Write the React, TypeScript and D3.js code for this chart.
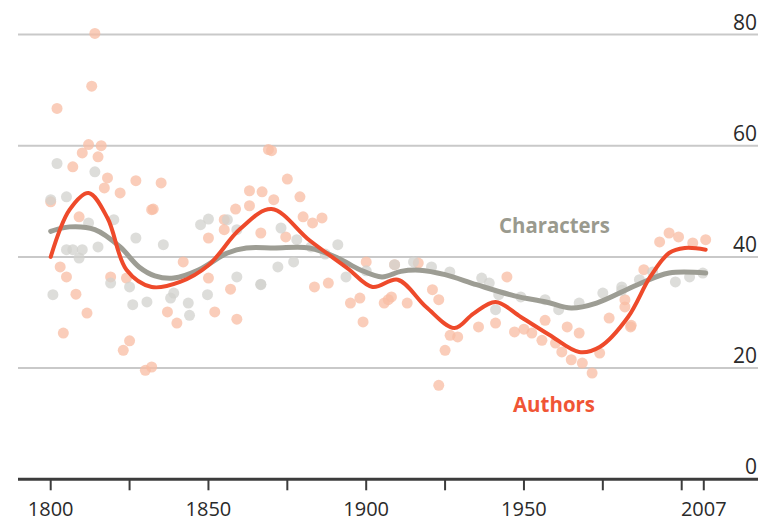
import React from 'react';
import * as d3 from 'd3';

// scatter points: [year, value]
const authorDots: [number, number][] = [
  [1814, 80.2], [1813, 70.7], [1802, 66.7], [1812, 60.2], [1816, 60], [1810, 58.7], [1815, 58],
  [1807, 56.2], [1818, 54.2], [1817, 52.4], [1827, 53.7], [1822, 51.5], [1832, 48.5], [1800, 49.9],
  [1809, 47.2], [1803, 38.2], [1805, 36.4], [1808, 33.3], [1819, 36.4], [1824, 36.2], [1811.5, 29.9],
  [1804, 26.3], [1825, 24.9], [1823, 23.2], [1830, 19.6], [1832, 20.2],
  [1869, 59.3], [1835, 53.3], [1832.5, 48.6], [1863, 51.9], [1867, 51.7], [1858.6, 48.6], [1863, 49.2],
  [1855, 46.7], [1850, 43.4], [1855, 44.9], [1842, 39.1], [1850, 36.2], [1857, 34.2], [1837, 30.1],
  [1840, 28.1], [1852, 30.1], [1859, 28.8], [1866.6, 44.3],
  [1870, 59.1], [1875, 54], [1870.7, 50.3], [1879, 50.8], [1880, 47.2], [1886, 47], [1883, 46.1],
  [1874.5, 43.6], [1883.6, 34.6], [1888, 35.3], [1895, 31.7], [1898, 32.6], [1899, 28.3], [1900, 39.1],
  [1905.7, 31.7], [1908, 32.8],
  [1909, 38.6], [1916.5, 38.9], [1913, 31.7], [1921, 34.1], [1923, 32.3], [1926.6, 25.9], [1929, 25.6],
  [1925, 23.2], [1923, 16.9], [1935.6, 27.4], [1941, 28.1], [1944.6, 36.4], [1947, 26.5],
  [1952.5, 26.3], [1956.7, 28.6], [1955.7, 25], [1960, 24.5], [1962, 22.9], [1963.7, 27.4],
  [1967.5, 26.3], [1968.5, 20.9], [1971.6, 19.1], [1974, 22.7], [1977, 29], [1983.8, 27.4], [1982, 31],
  [1996, 44.3], [1999, 43.6], [1993, 42.7], [2003.5, 42.5], [2007.6, 43.1], [1988, 37.7], [1984, 27.7],
  [1982, 32.3], [1907, 32.3], [1950, 27], [1965, 21.5],
];

const characterDots: [number, number][] = [
  [1802, 56.8], [1814, 55.3], [1805, 50.8], [1800, 50.3], [1812, 46.1], [1820, 46.7], [1827, 43.4],
  [1807, 41.3], [1810, 41.3], [1805, 41.3], [1815, 41.8], [1809, 39.8], [1819, 35.3], [1800.7, 33.2],
  [1825, 34.6], [1826, 31.4], [1830.5, 31.9],
  [1835.7, 42.2], [1847.5, 45.8], [1850, 46.8], [1856, 46.7], [1859, 44.9], [1859, 36.4], [1866.6, 35.1],
  [1849.7, 33.2], [1843.6, 31.7], [1838, 32.6], [1844, 29.5], [1839, 33.5],
  [1873, 45.2], [1878, 43.1], [1882.5, 41.8], [1891, 42.2], [1877, 39.1], [1872, 38.2], [1893.6, 36.4],
  [1909, 38.6], [1866.6, 35], [1887, 40.5], [1900, 37.5],
  [1915, 39.1], [1920.7, 38.2], [1926.5, 37.3], [1936.6, 36.2], [1939, 35.3], [1942, 33.2], [1941, 30.5],
  [1949, 32.8], [1956.7, 32.3], [1961, 30.5], [1967.5, 31.7], [1975, 33.5], [1981, 34],
  [1998, 35.5], [2002.5, 36.4], [1986.6, 35.9], [1990.8, 37.3], [2006.7, 37.1], [1981, 34.6],
];

// smoothed trend lines
const authorTrend: [number, number][] = [
  [1800, 40], [1806, 48.5], [1812, 51.5], [1818, 47], [1824, 37.7], [1832, 34.6], [1841, 35.5],
  [1850, 38.5], [1860, 45], [1870, 48.6], [1882, 43], [1894, 38], [1902, 34.6], [1910, 35.9],
  [1919, 31], [1928, 27.2], [1934, 29.8], [1941, 31.9], [1949, 29.2], [1958, 26], [1967.5, 22.9],
  [1974, 23.8], [1983, 29.2], [1990, 36.4], [1996, 40.7], [2001, 41.6], [2007.6, 41.3],
];

const characterTrend: [number, number][] = [
  [1800, 44.6], [1806, 45.4], [1814, 44.9], [1822, 41.8], [1828, 38.2], [1833, 36.6], [1839, 36.2],
  [1847, 37.7], [1856, 40.7], [1862, 41.6], [1871, 41.6], [1882, 41.6], [1891, 39.8], [1898, 37.7],
  [1905, 36.4], [1911, 37.4], [1917, 37.6], [1925, 36.8], [1935, 35], [1947, 33], [1957, 31.9],
  [1965, 30.8], [1973, 31.7], [1986, 35], [1996, 37.1], [2007.6, 37.1],
];

const yTicks = [0, 20, 40, 60, 80];
const xTicks = [1800, 1825, 1850, 1875, 1900, 1925, 1950, 1975, 2000, 2007];
const xLabels = [1800, 1850, 1900, 1950, 2007];

const W = 776;
const H = 523;
const font = "'Open Sans', 'Noto Sans', sans-serif";

export default function App() {
  const x = d3.scaleLinear().domain([1800, 2000]).range([50.7, 681.7]);
  const y = d3.scaleLinear().domain([0, 80]).range([479.3, 34.5]);
  const gridLeft = 18;
  const gridRight = 758;

  const line = d3
    .line<[number, number]>()
    .x(d => x(d[0]))
    .y(d => y(d[1]))
    .curve(d3.curveCatmullRom.alpha(0.5));

  return (
    <svg width={W} height={H} style={{ position: 'absolute', left: 0, top: 0, background: '#fff' }}>
      {/* gridlines */}
      {yTicks.filter(t => t > 0).map(t => (
        <line key={t} x1={gridLeft} x2={gridRight} y1={y(t)} y2={y(t)} stroke="#c9c9c9" strokeWidth={2} />
      ))}
      {yTicks.map(t => (
        <text key={'yl' + t} x={757} y={y(t) - 5} textAnchor="end" fontFamily={font} fontSize={21} fill="#2a2a2a">
          {t}
        </text>
      ))}

      {/* dots */}
      <g>
        {authorDots.map((d, i) => (
          <circle key={'a' + i} cx={x(d[0])} cy={y(d[1])} r={5.5} fill="#f8bca3" opacity={0.75} />
        ))}
        {characterDots.map((d, i) => (
          <circle key={'c' + i} cx={x(d[0])} cy={y(d[1])} r={5.5} fill="#d2d2cd" opacity={0.75} />
        ))}
      </g>

      {/* trend lines */}
      <path d={line(characterTrend) ?? ''} fill="none" stroke="#9d9d94" strokeWidth={5} strokeLinecap="round" />
      <path d={line(authorTrend) ?? ''} fill="none" stroke="#ee4a2b" strokeWidth={4} strokeLinecap="round" />

      {/* series labels */}
      <text x={499} y={233} fontFamily={font} fontSize={21} fontWeight={700} fill="#9a9a8e"
        textLength={111} lengthAdjust="spacingAndGlyphs">Characters</text>
      <text x={513} y={412} fontFamily={font} fontSize={21} fontWeight={700} fill="#f05535"
        textLength={82} lengthAdjust="spacingAndGlyphs">Authors</text>

      {/* x axis */}
      <line x1={gridLeft} x2={gridRight} y1={y(0)} y2={y(0)} stroke="#3c3c3c" strokeWidth={3} />
      {xTicks.map(t => (
        <line key={'xt' + t} x1={x(t)} x2={x(t)} y1={y(0)} y2={y(0) + 11} stroke="#3c3c3c" strokeWidth={2} />
      ))}
      {xLabels.map(t => (
        <text key={'xl' + t} x={x(t)} y={516} textAnchor="middle" fontFamily={font} fontSize={20} fill="#2a2a2a">
          {t}
        </text>
      ))}
    </svg>
  );
}
